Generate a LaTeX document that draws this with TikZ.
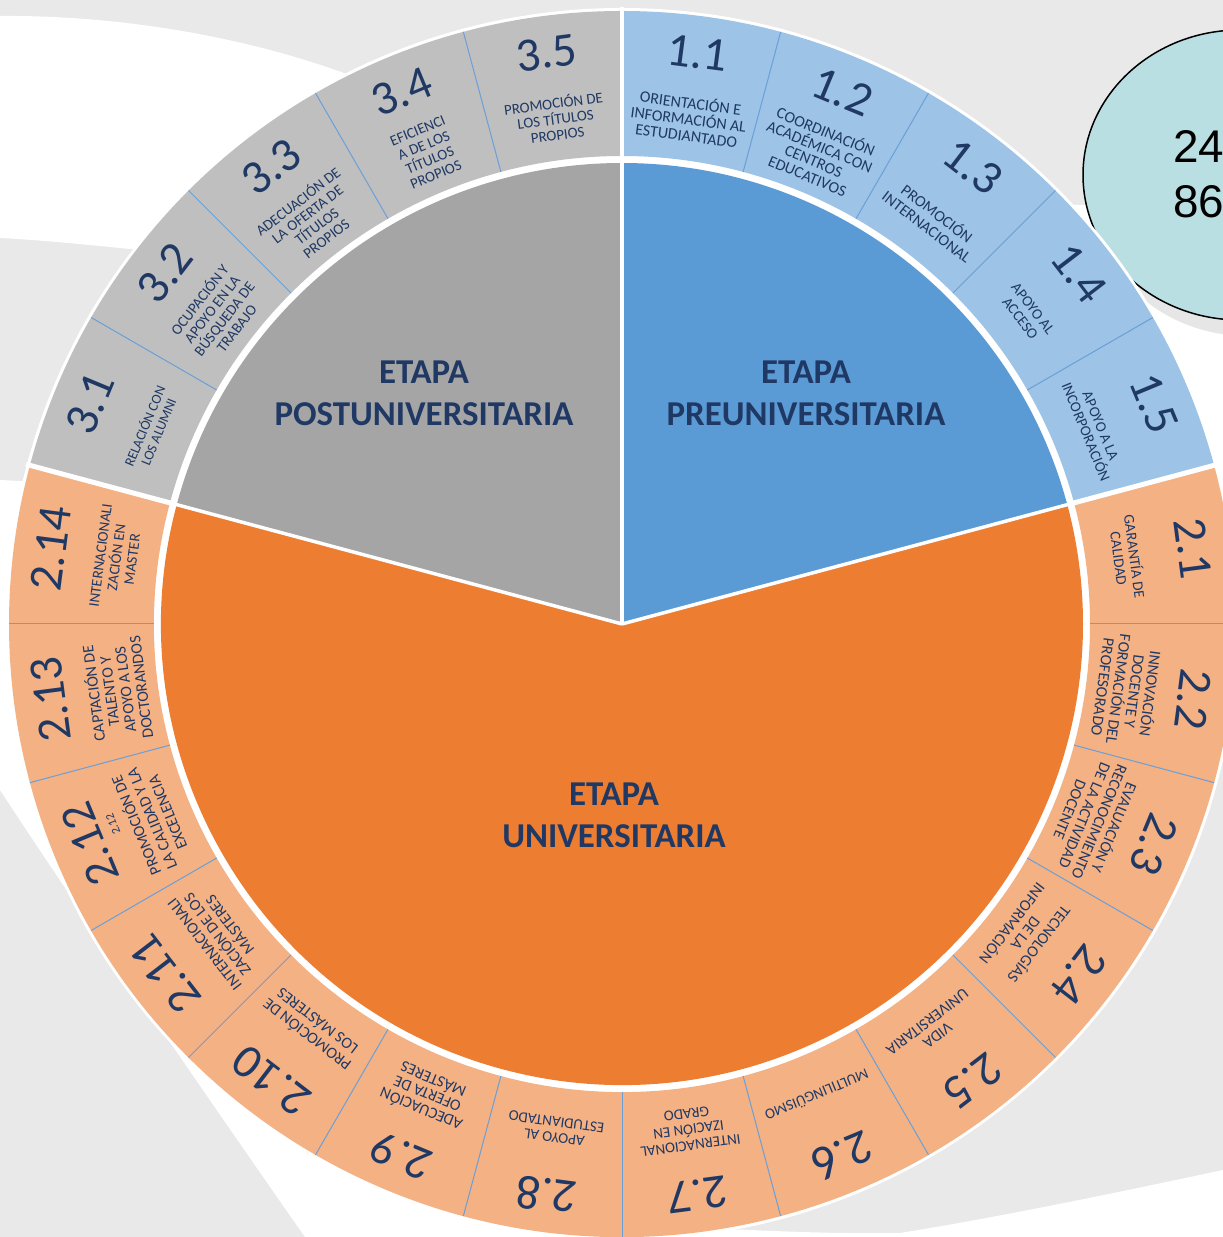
\documentclass[tikz,border=0pt]{standalone}
\usepackage{fontspec}
\setmainfont{Carlito}
\newfontfamily\arialf{Liberation Sans}
\definecolor{bggray}{HTML}{E9E9E9}
\definecolor{navy}{HTML}{1F3864}
\definecolor{prepie}{HTML}{5B9BD5}
\definecolor{prering}{HTML}{9DC3E6}
\definecolor{postpie}{HTML}{A5A5A5}
\definecolor{postring}{HTML}{BFBFBF}
\definecolor{unipie}{HTML}{ED7D31}
\definecolor{uniring}{HTML}{F4B183}
\definecolor{segline}{HTML}{6A9FD8}
\definecolor{bubblefill}{HTML}{B9DFE3}
\definecolor{shadowgray}{HTML}{E6E6E6}
\tikzset{
  numst/.style={text=navy, font=\fontsize{48}{48}\selectfont, inner sep=0pt, anchor=center},
  descst/.style={text=navy, align=center, inner sep=0pt, anchor=center},
  biglab/.style={text=navy, align=center, inner sep=0pt, font=\bfseries\fontsize{35}{42}\selectfont},
  bubtext/.style={text=black, inner sep=0pt, anchor=base west, font=\arialf\fontsize{46}{46}\selectfont},
  thinsep/.style={draw=segline, line width=1pt},
  groupsep/.style={draw=white, line width=5pt},
  piesep/.style={draw=white, line width=3.5pt}
}
% #1 angle, #2 name, #3 number, #4 description, #5 size, #6 skip
\newcommand\segtext[6]{%
  \node[numst, rotate=#1-90] (n#2) at (#1:576) {#3};
  \node[descst, rotate=#1-90, font=\fontsize{#5}{#6}\selectfont] (d#2) at (#1:510) {#4};
}
\begin{document}
\begin{tikzpicture}[x=1bp,y=1bp]
\useasboundingbox (0,0) rectangle (1223,1237);
\clip (0,0) rectangle (1223,1237);
% background
\fill[bggray] (0,0) rectangle (1223,1237);
\fill[white] (0,1221) .. controls (120,1222) and (260,1200) .. (380,1150) -- (600,700) -- (140,987) .. controls (90,992) and (40,997) .. (0,999) -- cycle;
\fill[white] (1060,1032) -- (1223,1032) -- (1223,587) -- (900,587) -- (900,837) -- cycle;
\fill[white] (0,757) -- (40,755) -- (622,613) -- (690,10) .. controls (780,5) and (850,3) .. (900,4) .. controls (1000,20) and (1120,45) .. (1223,67) -- (1223,-5) -- (305,-5) -- (305,0) .. controls (200,150) and (70,340) .. (0,447) -- cycle;
% bubble
\fill[shadowgray] (1248,1046) ellipse[x radius=157, y radius=145];
\draw[black, line width=1.5pt, fill=bubblefill] (1240,1062) ellipse[x radius=157, y radius=145];
\node[bubtext] (t24) at (1173,1074) {24};
\node[bubtext] (t86) at (1173,1019) {86};
% wheel
\begin{scope}[shift={(622,613)}]
  \fill[white] (0,0) circle[radius=616];
  \fill[prepie] (0,0) -- (15:461) arc[start angle=15,end angle=90,radius=461] -- cycle;
  \fill[postpie] (0,0) -- (90:461) arc[start angle=90,end angle=165,radius=461] -- cycle;
  \fill[unipie] (0,0) -- (165:461) arc[start angle=165,end angle=375,radius=461] -- cycle;
  \fill[prering] (15:468) arc[start angle=15,end angle=90,radius=468] -- (90:613) arc[start angle=90,end angle=15,radius=613] -- cycle;
  \fill[postring] (90:468) arc[start angle=90,end angle=165,radius=468] -- (165:613) arc[start angle=165,end angle=90,radius=613] -- cycle;
  \fill[uniring] (165:468) arc[start angle=165,end angle=375,radius=468] -- (375:613) arc[start angle=375,end angle=165,radius=613] -- cycle;
  \foreach \a in {30,45,60,75,105,120,135,150} \draw[thinsep] (\a:468) -- (\a:613);
  \foreach \a in {0,-15,...,-180} \draw[thinsep] (\a:468) -- (\a:613);
  \foreach \a in {15,90,165} {
    \draw[piesep] (0,0) -- (\a:464);
    \draw[groupsep] (\a:462) -- (\a:617);
  }
  % texts
  \segtext{82.5}{a11}{1.1}{ORIENTACIÓN E\\INFORMACIÓN AL\\ESTUDIANTADO}{16}{16.5}
  \segtext{67.5}{a12}{1.2}{COORDINACIÓN\\ACADÉMICA CON\\CENTROS\\EDUCATIVOS}{16}{16}
  \segtext{52.5}{a13}{1.3}{PROMOCIÓN\\INTERNACIONAL}{16}{17}
  \segtext{37.5}{a14}{1.4}{APOYO AL\\ACCESO}{15}{16}
  \segtext{22.5}{a15}{1.5}{APOYO A LA\\INCORPORACIÓN}{15}{16}
  \segtext{7.5}{b1}{2.1}{GARANTÍA DE\\CALIDAD}{15}{16}
  \segtext{-7.5}{b2}{2.2}{INNOVACIÓN\\DOCENTE Y\\FORMACIÓN DEL\\PROFESORADO}{16}{16}
  \segtext{-22.5}{b3}{2.3}{EVALUACIÓN Y\\RECONOCIMIENTO\\DE LA ACTIVIDAD\\DOCENTE}{16}{16}
  \segtext{-37.5}{b4}{2.4}{TECNOLOGÍAS\\DE LA\\INFORMACIÓN}{16}{17}
  \segtext{-52.5}{b5}{2.5}{VIDA\\UNIVERSITARIA}{16}{17}
  \segtext{-67.5}{b6}{2.6}{MULTILINGÜISMO}{15}{16}
  \segtext{-82.5}{b7}{2.7}{INTERNACIONAL\\IZACIÓN EN\\GRADO}{15}{16}
  \segtext{-97.5}{b8}{2.8}{APOYO AL\\ESTUDIANTADO}{15}{16}
  \segtext{-112.5}{b9}{2.9}{ADECUACIÓN\\OFERTA DE\\MÁSTERES}{16}{16}
  \segtext{-127.5}{b10}{2.10}{PROMOCIÓN DE\\LOS MÁSTERES}{16}{17}
  \segtext{-142.5}{b11}{2.11}{INTERNACIONALI\\ZACIÓN DE LOS\\MÁSTERES}{16}{16}
  \segtext{-157.5}{b12}{2.12}{PROMOCIÓN DE\\LA CALIDAD Y LA\\EXCELENCIA}{16}{17}
  \segtext{-172.5}{b13}{2.13}{CAPTACIÓN DE\\TALENTO Y\\APOYO A LOS\\DOCTORANDOS}{16}{16}
  \segtext{-187.5}{b14}{2.14}{INTERNACIONALI\\ZACIÓN EN\\MASTER}{15}{16}
  \segtext{157.5}{c1}{3.1}{RELACIÓN CON\\LOS ALUMNI}{14}{15}
  \segtext{142.5}{c2}{3.2}{OCUPACIÓN Y\\APOYO EN LA\\BÚSQUEDA DE\\TRABAJO}{15}{15.5}
  \segtext{127.5}{c3}{3.3}{ADECUACIÓN DE\\LA OFERTA DE\\TÍTULOS\\PROPIOS}{15}{15.5}
  \segtext{112.5}{c4}{3.4}{EFICIENCI\\A DE LOS\\TÍTULOS\\PROPIOS}{15}{16}
  \segtext{97.5}{c5}{3.5}{PROMOCIÓN DE\\LOS TÍTULOS\\PROPIOS}{15}{16}
  \node[text=navy, font=\fontsize{12}{12}\selectfont, rotate=-248.5, inner sep=0pt] (b12s) at (-158.5:547) {2.12};
\end{scope}
% stage labels
\node[biglab] (pre) at (806,844) {ETAPA\\PREUNIVERSITARIA};
\node[biglab] (post) at (424,844) {ETAPA\\POSTUNIVERSITARIA};
\node[biglab] (uni) at (614,422) {ETAPA\\UNIVERSITARIA};
\end{tikzpicture}
\end{document}
